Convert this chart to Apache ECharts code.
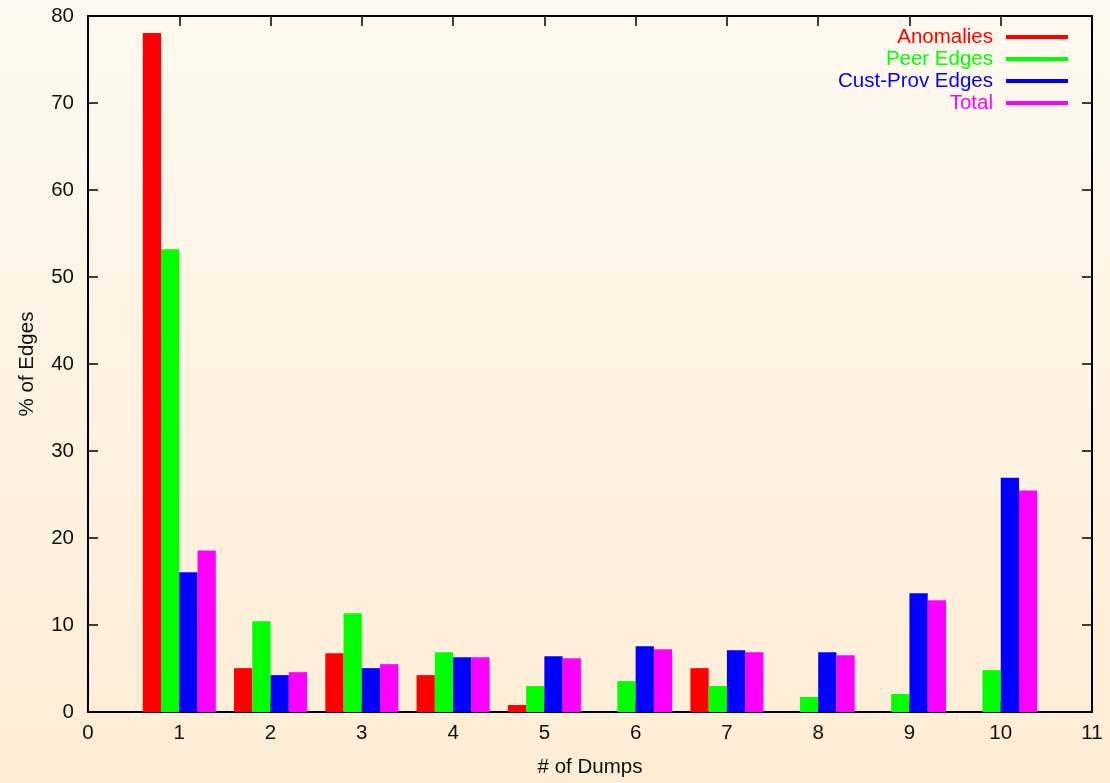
<!DOCTYPE html>
<html>
<head>
<meta charset="utf-8">
<script src="https://cdn.jsdelivr.net/npm/echarts@6/dist/echarts.min.js"></script>
<style>
html,body{margin:0;padding:0;}
#c{width:1110px;height:783px;}
</style>
</head>
<body>
<div id="c"></div>
<script>
const dumps = [1, 2, 3, 4, 5, 6, 7, 8, 9, 10];
const anomalies = [78.05, 5.04, 6.76, 4.24, 0.8, 0, 5.04, 0, 0, 0];
const peerEdges = [53.2, 10.43, 11.35, 6.88, 2.98, 3.55, 2.98, 1.72, 2.06, 4.81];
const custProvEdges = [16.05, 4.24, 5.04, 6.3, 6.42, 7.56, 7.1, 6.88, 13.64, 26.93];
const total = [18.57, 4.58, 5.5, 6.3, 6.19, 7.22, 6.88, 6.53, 12.84, 25.45];
const seriesNames = ['Anomalies', 'Peer Edges', 'Cust-Prov Edges', 'Total'];
const seriesColors = ['#ff0000', '#00ff00', '#0000ff', '#ff00ff'];
const seriesValues = [anomalies, peerEdges, custProvEdges, total];

const font = 'Liberation Sans, Arial, Helvetica, sans-serif';
const fs = 20.5;
const chart = echarts.init(document.getElementById('c'));

const axisCommon = {
  axisLine: { show: true, onZero: false, lineStyle: { color: '#000', width: 2 } },
  axisTick: { show: true, inside: true, length: 10, lineStyle: { color: '#000', width: 1.5 } },
  splitLine: { show: false }
};

chart.setOption({
  backgroundColor: {
    type: 'linear', x: 0, y: 0, x2: 0, y2: 1,
    colorStops: [{ offset: 0, color: '#fef9f0' }, { offset: 1, color: '#fdedd5' }]
  },
  textStyle: { fontFamily: font },
  animation: false,
  grid: { left: 88, right: 18, top: 16, bottom: 69, containLabel: false },
  legend: {
    data: seriesNames.map((n, i) => ({ name: n, textStyle: { color: seriesColors[i] } })),
    orient: 'vertical',
    align: 'right',
    right: 37,
    top: 21,
    icon: 'rect',
    itemWidth: 62,
    itemHeight: 4,
    itemGap: 0,
    textStyle: { fontSize: fs, fontFamily: font, lineHeight: 22, padding: [0, 8, 0, 0] }
  },
  xAxis: [
    Object.assign({
      type: 'value', min: 0, max: 11, interval: 1, position: 'bottom',
      name: '# of Dumps', nameLocation: 'middle', nameGap: 45,
      nameTextStyle: { fontSize: fs, color: '#111', fontFamily: font },
      axisLabel: { fontSize: fs, color: '#111', margin: 11, fontFamily: font }
    }, axisCommon),
    Object.assign({
      type: 'value', min: 0, max: 11, interval: 1, position: 'top',
      axisLabel: { show: false }
    }, axisCommon)
  ],
  yAxis: [
    Object.assign({
      type: 'value', min: 0, max: 80, interval: 10, position: 'left',
      name: '% of Edges', nameLocation: 'middle', nameGap: 50,
      nameTextStyle: { fontSize: fs, color: '#111', fontFamily: font },
      axisLabel: { fontSize: fs, color: '#111', margin: 14, fontFamily: font }
    }, axisCommon),
    Object.assign({
      type: 'value', min: 0, max: 80, interval: 10, position: 'right',
      axisLabel: { show: false }
    }, axisCommon)
  ],
  series: seriesNames.map((n, i) => ({
    name: n,
    type: 'bar',
    xAxisIndex: 0,
    yAxisIndex: 0,
    barWidth: 18.26,
    barGap: '0%',
    itemStyle: { color: seriesColors[i] },
    data: dumps.map((d, j) => [d, seriesValues[i][j]])
  }))
});
</script>
</body>
</html>
